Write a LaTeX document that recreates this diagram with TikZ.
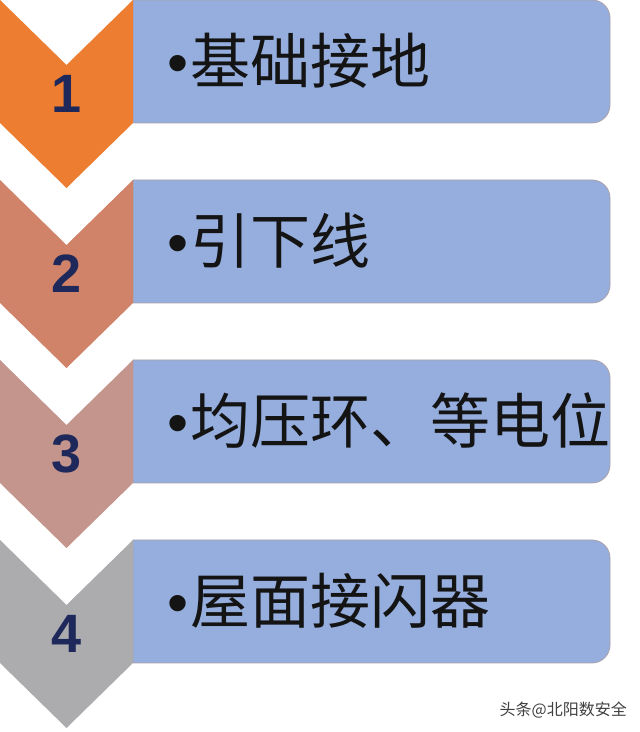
\documentclass[tikz,border=0pt]{standalone}
\usepackage{fontspec}
\setmainfont{Liberation Sans}
\newfontfamily\cjk{Noto Sans CJK SC}
\definecolor{cA}{RGB}{237,125,49}
\definecolor{cB}{RGB}{208,131,104}
\definecolor{cC}{RGB}{196,149,140}
\definecolor{cD}{RGB}{172,172,174}
\definecolor{boxblue}{RGB}{149,174,222}
\definecolor{boxedge}{RGB}{170,160,170}
\definecolor{numnavy}{RGB}{30,40,90}
\tikzset{
  chev/.style={draw=none},
  bluebox/.style={fill=boxblue,draw=boxedge,line width=0.8pt},
  numlabel/.style={font=\fontsize{54}{58}\selectfont\bfseries,text=numnavy,inner sep=0pt},
  itemlabel/.style={font=\cjk\fontsize{60}{64}\selectfont,text=black!92,anchor=west,inner sep=0pt},
  wm/.style={font=\cjk\fontsize{16}{18}\selectfont,text=black!75,inner sep=0pt}
}
\begin{document}
\begin{tikzpicture}[x=1pt,y=1pt]
\useasboundingbox (0,0) rectangle (640,732);
\fill[white] (0,0) rectangle (640,732);
\foreach \i/\c/\t in {0/cA/基础接地,1/cB/引下线,2/cC/均压环、等电位,3/cD/屋面接闪器}{
  \pgfmathsetmacro{\T}{732-180*\i}
  \pgfmathsetmacro{\B}{\T-123}
  \path[bluebox] (133,\T) -- (592,\T) arc[start angle=90,end angle=0,radius=18]
     -- (610,\B+18) arc[start angle=0,end angle=-90,radius=18] -- (133,\B) -- cycle;
  \fill[\c] (0,\T) -- (66.5,\T-65) -- (133,\T) -- (133,\B) -- (66.5,\T-188) -- (0,\B) -- cycle;
  \pgfmathtruncatemacro{\n}{\i+1}
  \node[numlabel] (num\n) at (66.5,\T-94) {\n};
  \node[itemlabel] (txt\n) at (167,\T-61) {{\fontspec{Liberation Sans}•}\hspace{2pt}\t};
}
\node[wm,anchor=east] (mark) at (627,22) {头条@北阳数安全};
\end{tikzpicture}
\end{document}
